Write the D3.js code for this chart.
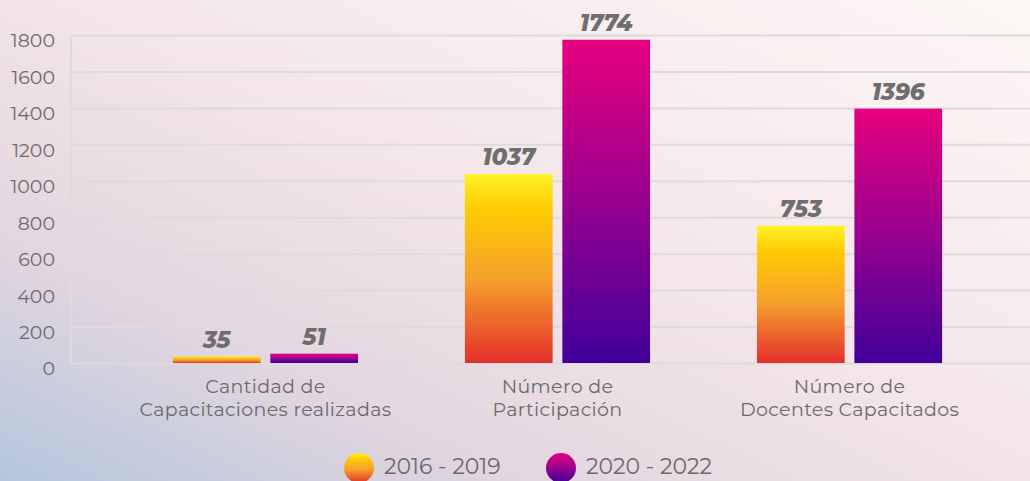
<!DOCTYPE html>
<html><head><meta charset="utf-8">
<script src="https://cdn.jsdelivr.net/npm/d3@7"></script>
<style>
html,body{margin:0;padding:0;overflow:hidden;}
body{width:1030px;height:481px;}
svg{display:block;}
</style></head>
<body>
<svg id="chart" width="1030" height="481"></svg>
<script>
const categories = [["Cantidad de","Capacitaciones realizadas"],["Número de","Participación"],["Número de","Docentes Capacitados"]];
const categoryKeys = ["c1","c2","c3"];
const seriesNames = ["2016 - 2019","2020 - 2022"];
const values2016 = [35, 1037, 753];
const values2020 = [51, 1774, 1396];
const yTicks = [0,200,400,600,800,1000,1200,1400,1600,1800];

const W = 1030, H = 481;
const svg = d3.select("#chart");
const defs = svg.append("defs");

// background
const bg = defs.append("linearGradient").attr("id","bg").attr("x1","100%").attr("y1","0%").attr("x2","0%").attr("y2","100%");
[[0,"#fdf7f6"],[0.45,"#f4e6e9"],[0.75,"#e2d6df"],[1,"#b4c6dc"]].forEach(s=>bg.append("stop").attr("offset",s[0]).attr("stop-color",s[1]));
svg.append("rect").attr("width",W).attr("height",H).attr("fill","url(#bg)");

const gY = defs.append("linearGradient").attr("id","gradA").attr("x1",0).attr("y1",0).attr("x2",0).attr("y2",1);
[[0,"#fff22a"],[0.18,"#fecc00"],[0.55,"#f5a12c"],[1,"#e4302c"]].forEach(s=>gY.append("stop").attr("offset",s[0]).attr("stop-color",s[1]));
const gP = defs.append("linearGradient").attr("id","gradB").attr("x1",0).attr("y1",0).attr("x2",0).attr("y2",1);
[[0,"#e6007e"],[0.5,"#97008f"],[1,"#40009a"]].forEach(s=>gP.append("stop").attr("offset",s[0]).attr("stop-color",s[1]));
const fills = ["url(#gradA)","url(#gradB)"];

const y = d3.scaleLinear().domain([0,1800]).range([363,35]);
const x0 = d3.scaleBand().domain(categoryKeys).range([66,1049]).padding(0.366);
const x1 = d3.scaleBand().domain([0,1]).range([0,x0.bandwidth()]).paddingInner(0.1);

const font = "Montserrat, 'Open Sans', sans-serif";
// grid
const yAxis = d3.axisLeft(y).tickValues(yTicks).tickSize(-(W-71)).tickPadding(16).tickFormat(d3.format("d"));
const ga = svg.append("g").attr("transform","translate(71,0)").call(yAxis);
ga.select(".domain").remove();
ga.selectAll(".tick line").attr("stroke","#dcdcdc").attr("stroke-width",2);
ga.selectAll(".tick text").attr("fill","#6b6b6b").attr("font-family",font).attr("font-size",19).attr("dy","0.63em");
svg.append("line").attr("x1",71).attr("x2",71).attr("y1",y(1800)).attr("y2",y(0)).attr("stroke","#dcdcdc").attr("stroke-width",2);

const data = categoryKeys.map((k,i)=>({k, vals:[values2016[i], values2020[i]]}));
const groups = svg.selectAll(".grp").data(data).join("g").attr("transform",d=>`translate(${x0(d.k)},0)`);
groups.selectAll("rect").data(d=>d.vals.map((v,j)=>({v,j}))).join("rect")
  .attr("x",d=>x1(d.j)).attr("width",x1.bandwidth())
  .attr("y",d=>y(d.v)).attr("height",d=>y(0)-y(d.v))
  .attr("fill",d=>fills[d.j]);
groups.selectAll("text.val").data(d=>d.vals.map((v,j)=>({v,j}))).join("text").attr("class","val")
  .attr("x",d=>x1(d.j)+x1.bandwidth()/2).attr("y",d=>y(d.v)-9)
  .attr("text-anchor","middle").attr("font-family",font).attr("font-weight",800).attr("font-style","italic")
  .attr("font-size",23).attr("fill","#6e6e6e").text(d=>d.v);

// category labels
const xl = svg.append("g");
data.forEach((d,i)=>{
  const cx = x0(d.k)+x0.bandwidth()/2;
  const t = xl.append("text").attr("text-anchor","middle").attr("font-family",font).attr("font-size",19)
    .attr("letter-spacing",0.35).attr("fill","#6b6b6b").attr("x",cx).attr("y",393);
  categories[i].forEach((ln,li)=>t.append("tspan").attr("x",cx).attr("dy",li?22.5:0).text(ln));
});

// legend
const legX = [359, 561];
const lg = svg.append("g");
seriesNames.forEach((s,i)=>{
  lg.append("circle").attr("cx",legX[i]).attr("cy",468).attr("r",15).attr("fill",fills[i]);
  lg.append("text").attr("x",legX[i]+25).attr("y",474).attr("font-family",font).attr("font-size",22).attr("fill","#6b6b6b").text(s);
});
</script>
</body></html>
